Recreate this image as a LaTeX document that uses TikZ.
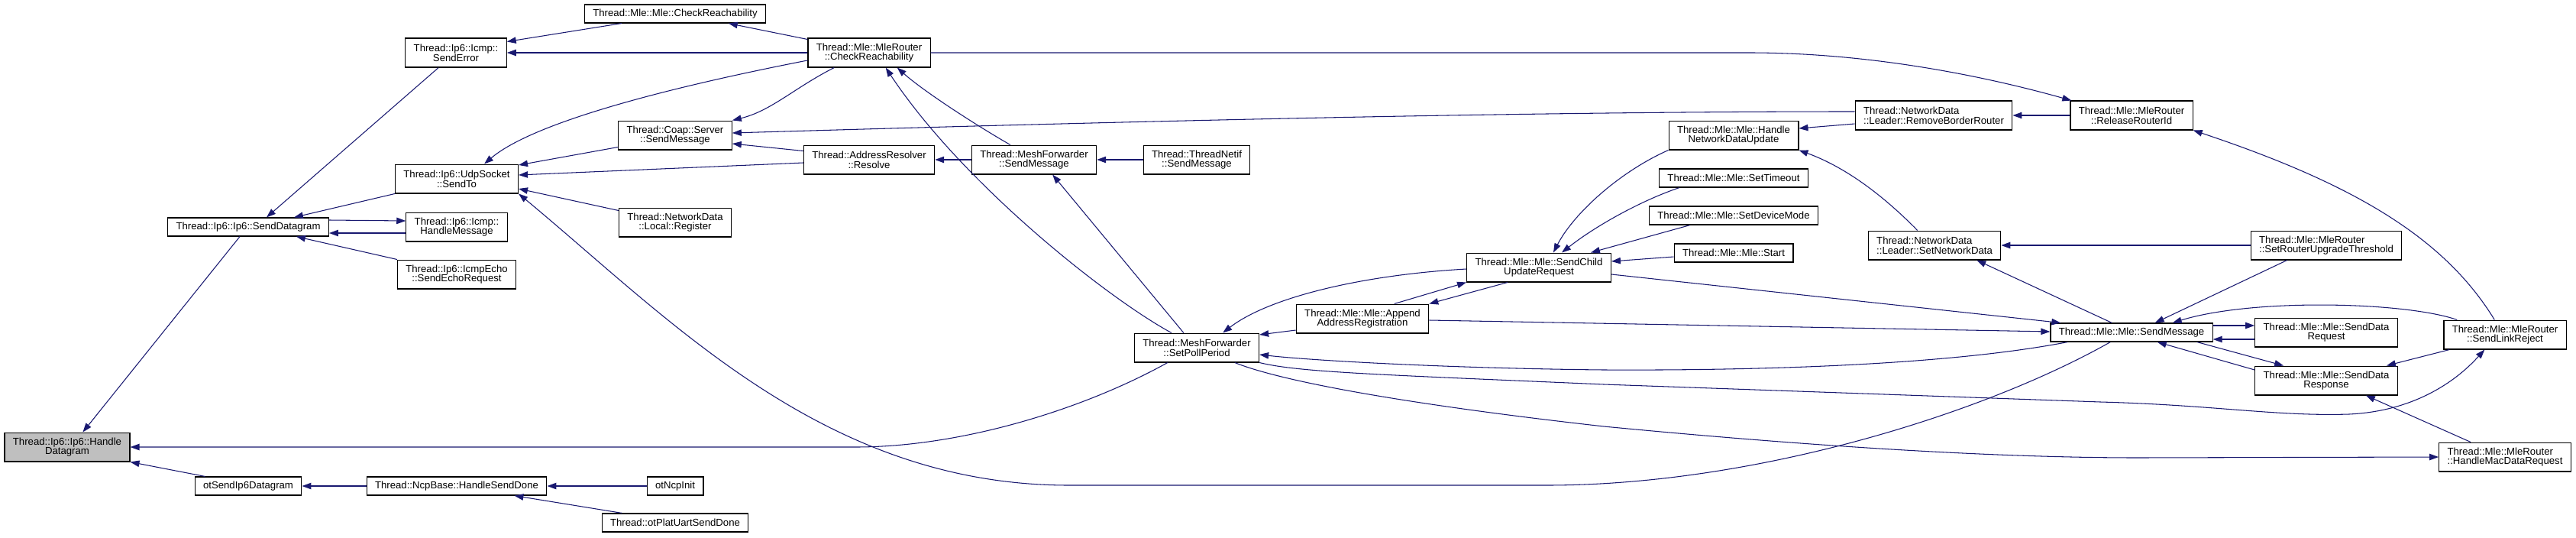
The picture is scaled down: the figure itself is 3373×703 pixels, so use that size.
\documentclass[tikz,border=0pt]{standalone}
\usepackage{fontspec}
\setmainfont{Liberation Sans}
\usetikzlibrary{arrows.meta,calc}
\definecolor{edgeblue}{HTML}{191970}
\tikzset{
  box/.style={draw=black, line width=0.7pt, fill=white, inner xsep=6.2pt, inner ysep=1pt,
    minimum height=13.6pt, align=center, font=\fontsize{7.5}{7.2}\selectfont},
  box2/.style={box, minimum height=21.5pt},
  call/.style={edgeblue, line width=0.6pt, -{Triangle[length=6.8pt,width=4.8pt]}}
}

\begin{document}
\begin{tikzpicture}[x=0.02cm, y=-0.02cm]
  \useasboundingbox (0,0) rectangle (3373,703);
  % functions, column by column
  \node[box2, fill=black!25] (hd) at (88,585) {Thread::Ip6::Ip6::Handle\\Datagram};
  \node[box] (sdg) at (325,297) {Thread::Ip6::Ip6::SendDatagram};
  \node[box] (ots) at (325,636) {otSendIp6Datagram};
  \node[box2] (serr) at (597,69) {Thread::Ip6::Icmp::\\SendError};
  \node[box2] (sto) at (598,234) {Thread::Ip6::UdpSocket\\::SendTo};
  \node[box2] (hmsg) at (598,297) {Thread::Ip6::Icmp::\\HandleMessage};
  \node[box2] (echo) at (598,359) {Thread::Ip6::IcmpEcho\\::SendEchoRequest};
  \node[box] (hsd) at (598,636) {Thread::NcpBase::HandleSendDone};
  \node[box] (mcr) at (884,18) {Thread::Mle::Mle::CheckReachability};
  \node[box2] (coap) at (884,177) {Thread::Coap::Server\\::SendMessage};
  \node[box2] (reg) at (884,291) {Thread::NetworkData\\::Local::Register};
  \node[box] (ninit) at (884,636) {otNcpInit};
  \node[box] (uart) at (884,684) {Thread::otPlatUartSendDone};
  \node[box2] (rcr) at (1138,69) {Thread::Mle::MleRouter\\::CheckReachability};
  \node[box2] (res) at (1138,209) {Thread::AddressResolver\\::Resolve};
  \node[box2] (mfsm) at (1354,209) {Thread::MeshForwarder\\::SendMessage};
  \node[box2] (tnsm) at (1567,209) {Thread::ThreadNetif\\::SendMessage};
  \node[box2] (spp) at (1567,455) {Thread::MeshForwarder\\::SetPollPeriod};
  \node[box2] (aar) at (1784,417) {Thread::Mle::Mle::Append\\AddressRegistration};
  \node[box2] (scur) at (2015,350) {Thread::Mle::Mle::SendChild\\UpdateRequest};
  \node[box2] (hndu) at (2270,177) {Thread::Mle::Mle::Handle\\NetworkDataUpdate};
  \node[box] (stmo) at (2270,233) {Thread::Mle::Mle::SetTimeout};
  \node[box] (sdm) at (2270,282) {Thread::Mle::Mle::SetDeviceMode};
  \node[box] (start) at (2270,331) {Thread::Mle::Mle::Start};
  \node[box2, align=left] (rbr) at (2532,151) {Thread::NetworkData\\::Leader::RemoveBorderRouter};
  \node[box2, align=left] (snd) at (2533,321) {Thread::NetworkData\\::Leader::SetNetworkData};
  \node[box2] (rri) at (2791,151) {Thread::Mle::MleRouter\\::ReleaseRouterId};
  \node[box] (msm) at (2791,435) {Thread::Mle::Mle::SendMessage};
  \node[box2, align=left] (srut) at (3046,321) {Thread::Mle::MleRouter\\::SetRouterUpgradeThreshold};
  \node[box2] (sdreq) at (3046,435) {Thread::Mle::Mle::SendData\\Request};
  \node[box2] (sdresp) at (3046,498) {Thread::Mle::Mle::SendData\\Response};
  \node[box2] (slr) at (3280,438) {Thread::Mle::MleRouter\\::SendLinkReject};
  \node[box2, align=left] (hmdr) at (3280,598) {Thread::Mle::MleRouter\\::HandleMacDataRequest};

  % calls into the left part
  \draw[call] ($(sdg.south west)+(95,0)$) -- ($(hd.north west)+(103,0)$);
  \draw[call] ($(ots.north west)+(14,0)$) -- (hd.south east);
  \draw[call] ($(spp.south west)+(44,0)$) .. controls (1420,535) and (1260,585) .. (1120,585) -- (hd.east);
  \draw[call] ($(serr.south west)+(44,0)$) -- ($(sdg.north west)+(130,0)$);
  \draw[call] (sto.south west) -- ($(sdg.north west)+(166,0)$);
  \draw[call] ($(hmsg.west)+(0,8)$) -- ($(sdg.east)+(0,8)$);
  \draw[call] ($(sdg.east)+(0,-9)$) -- ($(hmsg.west)+(0,-8)$);
  \draw[call] (echo.north west) -- ($(sdg.south east)+(-43,0)$);
  \draw[call] (hsd.west) -- (ots.east);
  \draw[call] (ninit.west) -- (hsd.east);
  \draw[call] ($(uart.north west)+(27,0)$) -- ($(hsd.south east)+(-43,0)$);

  % calls into the Icmp / UdpSocket column
  \draw[call] ($(mcr.south west)+(49,0)$) -- ($(serr.north east)+(0,5)$);
  \draw[call] (rcr.west) -- (serr.east);
  \draw[call] ($(rcr.north west)+(0,2)$) -- ($(mcr.south west)+(189,0)$);
  \draw[call] ($(rcr.west)+(0,10)$) .. controls (950,100) and (710,150) .. ($(sto.north east)+(-45,0)$);
  \draw[call] ($(coap.south west)+(0,-4)$) -- ($(sto.east)+(0,-18)$);
  \draw[call] ($(res.west)+(0,4)$) -- ($(sto.east)+(0,-5)$);
  \draw[call] ($(reg.north west)+(0,4)$) -- ($(sto.east)+(0,13)$);
  \draw[call] ($(msm.south west)+(79,0)$) .. controls (2600,540) and (2300,635) .. (2025,635)
    -- (1400,635) .. controls (1080,635) and (880,420) .. (sto.south east);

  % Coap, resolver and mesh forwarder
  \draw[call] ($(res.north west)+(0,8)$) -- ($(coap.east)+(0,11)$);
  \draw[call] ($(rcr.south west)+(35,0)$) .. controls (1040,115) and (1010,145) .. (coap.north east);
  \draw[call] ($(rbr.west)+(0,-5)$) .. controls (2000,146) and (1500,158) .. ($(coap.east)+(0,-3)$);
  \draw[call] (mfsm.west) -- (res.east);
  \draw[call] ($(mfsm.north west)+(51,0)$) .. controls (1280,165) and (1210,120) .. ($(rcr.south east)+(-44,0)$);
  \draw[call] ($(spp.north west)+(49,0)$) .. controls (1450,390) and (1260,240) .. ($(rcr.south east)+(-59,0)$);
  \draw[call] ($(spp.north west)+(65,0)$) -- ($(mfsm.south east)+(-58,0)$);
  \draw[call] (tnsm.west) -- (mfsm.east);

  % child update request
  \draw[call] ($(scur.west)+(0,2)$) .. controls (1780,360) and (1660,390) .. ($(spp.north east)+(-48,0)$);
  \draw[call] ($(aar.north west)+(129,0)$) -- (scur.south west);
  \draw[call] ($(scur.south west)+(54,0)$) -- (aar.north east);
  \draw[call] ($(aar.west)+(0,15)$) -- ($(spp.east)+(0,-17)$);
  \draw[call] (hndu.south west) .. controls (2120,225) and (2060,280) .. ($(scur.north west)+(114,0)$);
  \draw[call] ($(stmo.south west)+(27,0)$) .. controls (2150,262) and (2090,295) .. ($(scur.north west)+(125,0)$);
  \draw[call] ($(sdm.south west)+(54,0)$) -- ($(scur.north east)+(-27,0)$);
  \draw[call] ($(start.west)+(0,5)$) -- ($(scur.east)+(0,-8)$);
  \draw[call] ($(scur.east)+(0,9)$) -- ($(msm.north west)+(14,0)$);
  \draw[call] ($(aar.east)+(0,2)$) -- ($(msm.west)+(0,-1)$);

  % Mle send message
  \draw[call] ($(msm.south west)+(23,0)$) .. controls (2550,478) and (2300,485) .. (2100,484)
    .. controls (1900,482) and (1720,472) .. ($(spp.east)+(0,9)$);
  \draw[call] (spp.south east) .. controls (1700,487) and (1800,490) .. (2100,503) -- (2750,526)
    .. controls (2900,530) and (2980,545) .. (3076,542)
    .. controls (3160,538) and (3215,500) .. ($(slr.south west)+(54,0)$);
  \draw[call] ($(spp.south west)+(132,0)$) .. controls (1680,500) and (1850,530) .. (2100,558)
    .. controls (2350,582) and (2600,599) .. (2800,599) -- (hmdr.west);
  \draw[call] ($(msm.north west)+(81,0)$) -- ($(snd.south east)+(-32,0)$);
  \draw[call] ($(srut.south west)+(48,0)$) -- ($(msm.north east)+(-76,0)$);
  \draw[call] ($(slr.north west)+(18,0)$) .. controls (3150,395) and (2950,390) .. ($(msm.north east)+(-53,0)$);
  \draw[call] ($(msm.east)+(0,-9)$) -- ($(sdreq.west)+(0,-9)$);
  \draw[call] ($(sdreq.west)+(0,9)$) -- ($(msm.east)+(0,9)$);
  \draw[call] ($(msm.south east)+(-21,0)$) -- ($(sdresp.north west)+(38,0)$);
  \draw[call] ($(sdresp.west)+(0,-14)$) -- ($(msm.south east)+(-73,0)$);
  \draw[call] ($(slr.south west)+(8,0)$) -- ($(sdresp.north east)+(-15,0)$);
  \draw[call] ($(hmdr.north west)+(42,0)$) -- ($(sdresp.south east)+(-42,0)$);

  % network data and router id
  \draw[call] ($(slr.north west)+(67,0)$) .. controls (3200,310) and (3080,240) .. (rri.south east);
  \draw[call] (srut.west) -- (snd.east);
  \draw[call] ($(snd.north west)+(65,0)$) .. controls (2470,260) and (2420,220) .. (hndu.south east);
  \draw[call] ($(rbr.west)+(0,11)$) -- ($(hndu.east)+(0,-9)$);
  \draw[call] (rri.west) -- (rbr.east);
  \draw[call] (rcr.east) -- (2290,69) .. controls (2450,69) and (2600,100) .. ($(rri.north west)+(2,0)$);
\end{tikzpicture}
\end{document}
